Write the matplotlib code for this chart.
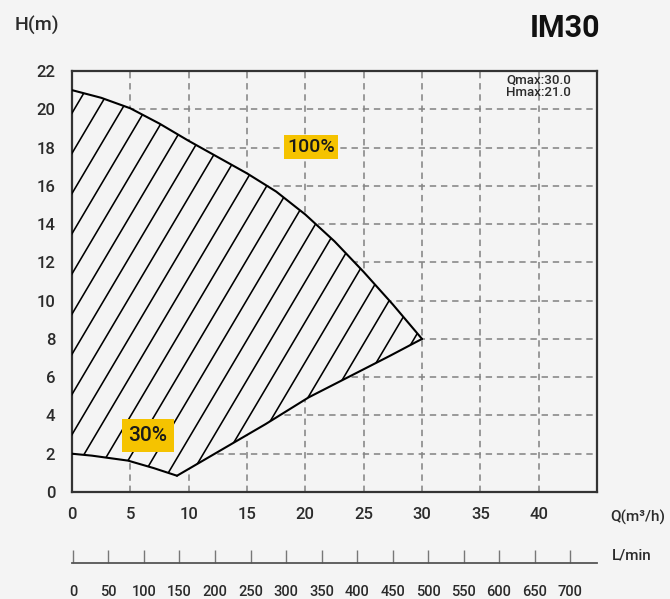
import matplotlib.pyplot as plt
import numpy as np
from matplotlib.patches import Polygon

plt.rcParams["font.family"] = ["Roboto", "DejaVu Sans"]
plt.rcParams["font.weight"] = "medium"

BG = "#f4f4f4"
INK = "#2b2b2b"
YELLOW = "#f5c300"

# pump envelope: 100% speed curve (top) and 30% speed curve (bottom)
top_q = [0, 2.5, 5, 7.5, 10, 12.5, 15, 17.5, 20, 22.5, 25, 27.5, 30]
top_h = [21.0, 20.6, 20.05, 19.25, 18.35, 17.5, 16.65, 15.7, 14.5, 13.1, 11.5, 9.8, 8.0]
low_q = [0, 1.7, 4.8, 7, 9]
low_h = [2.0, 1.9, 1.64, 1.25, 0.85]
end_q = [9, 16.6, 20.3, 27.2, 30]
end_h = [0.85, 3.55, 4.95, 7.1, 8.0]

q_ticks = [0, 5, 10, 15, 20, 25, 30, 35, 40]
h_ticks = [0, 2, 4, 6, 8, 10, 12, 14, 16, 18, 20, 22]
lmin_ticks = [0, 50, 100, 150, 200, 250, 300, 350, 400, 450, 500, 550, 600, 650, 700]

Q_MAX, H_MAX = 30.0, 21.0

fig = plt.figure(figsize=(6.70, 5.99), dpi=100, facecolor=BG)
ax = fig.add_axes([72 / 670, 1 - 492 / 599, 525 / 670, 421 / 599])
ax.set_facecolor(BG)
ax.set_xlim(0, 45)
ax.set_ylim(0, 22)

# dashed grid
for q in q_ticks[1:]:
    ax.axvline(q, color="#858585", lw=1.15, dashes=(4, 3), zorder=1)
for h in h_ticks[1:-1]:
    ax.axhline(h, color="#858585", lw=1.15, dashes=(4, 3), zorder=1)

# operating region outline
outline_q = top_q + end_q[::-1] + low_q[::-1]
outline_h = top_h + end_h[::-1] + low_h[::-1]
region = Polygon(np.column_stack([outline_q, outline_h]), closed=True,
                 facecolor=BG, edgecolor="none", zorder=2)
ax.add_patch(region)

# hatching: slanted lines clipped to the region
slope, gap = 1.03, 2.1
xs = np.array([-1.0, 46.0])
for k in range(-20, 12):
    c = 3.0 + k * gap
    (ln,) = ax.plot(xs, slope * xs + c, color="black", lw=1.15, zorder=3)
    ln.set_clip_path(region)

for qq, hh in [(top_q, top_h), (low_q, low_h), (end_q, end_h)]:
    ax.plot(qq, hh, color="black", lw=1.5, zorder=4,
            solid_capstyle="round", solid_joinstyle="round")

ax.text(20.5, 18.05, "100%", ha="center", va="center", fontsize=14,
        color="#1a1a1a", zorder=5,
        bbox=dict(boxstyle="square,pad=0.15", facecolor=YELLOW, edgecolor="none"))
ax.text(6.5, 2.95, "30%", ha="center", va="center", fontsize=15,
        color="#1a1a1a", zorder=5,
        bbox=dict(boxstyle="square,pad=0.32", facecolor=YELLOW, edgecolor="none"))

ax.set_xticks(q_ticks)
ax.set_yticks(h_ticks)
ax.tick_params(axis="x", length=0, pad=11, labelsize=12, labelcolor=INK)
ax.tick_params(axis="y", length=0, pad=12, labelsize=12, labelcolor=INK)
for s in ax.spines.values():
    s.set_color("#333333")
    s.set_linewidth(1.6)

# secondary flow scale in L/min
ax2 = fig.add_axes([72 / 670, 1 - 563 / 599, 525 / 670, 0.02])
ax2.set_facecolor("none")
ax2.set_xlim(-1.4, 738)
ax2.set_yticks([])
for side in ("left", "right", "top"):
    ax2.spines[side].set_visible(False)
ax2.spines["bottom"].set_color("#555555")
ax2.spines["bottom"].set_linewidth(1.3)
ax2.set_xticks(lmin_ticks)
ax2.tick_params(axis="x", direction="in", length=9.5, width=1.0, color="#777777",
                pad=16, labelsize=10.5, labelcolor=INK)

fig.text(15 / 670, 1 - 25 / 599, "H(m)", fontsize=14, color=INK, va="center", ha="left")
fig.text(600 / 670, 1 - 28 / 599, "IM30", fontsize=22, fontweight="bold",
         color="#111111", va="center", ha="right")
fig.text(610 / 670, 1 - 517 / 599, "Q(m³/h)", fontsize=11, color=INK, va="center", ha="left")
fig.text(612 / 670, 1 - 556 / 599, "L/min", fontsize=11, color=INK, va="center", ha="left")
fig.text(506 / 670, 1 - 86.5 / 599, f"Qmax:{Q_MAX:.1f}\nHmax:{H_MAX:.1f}", fontsize=9.5,
         color=INK, va="center", ha="left", linespacing=1.0)

fig.savefig("out.png", dpi=100, facecolor=BG)
